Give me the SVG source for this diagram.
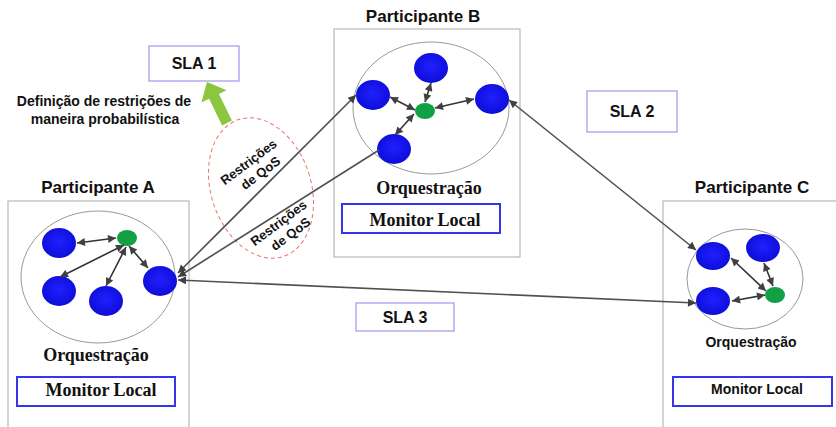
<svg xmlns="http://www.w3.org/2000/svg" width="836" height="427" viewBox="0 0 836 427">
<style>
.box{fill:#fff;stroke:#aaaaaa;stroke-width:1}
.orch{fill:none;stroke:#999999;stroke-width:1}
.blue{fill:url(#gb)}
.green{fill:#11a043}
.sla{fill:#fff;stroke:#9a9af2;stroke-width:1.2}
.mon{fill:#fff;stroke:#3535ee;stroke-width:2}
.title{font-family:"Liberation Sans",Arial,sans-serif;font-weight:bold;font-size:17px;fill:#111;text-anchor:middle}
.sans{font-family:"Liberation Sans",Arial,sans-serif;font-weight:bold;fill:#111;text-anchor:middle}
.serif{font-family:"Liberation Serif","Times New Roman",serif;font-weight:bold;font-size:18px;fill:#111;text-anchor:middle}
.link{stroke:#505050;stroke-width:1.6;fill:none}
.inner{stroke:#333333;stroke-width:1.6;fill:none}
</style>
<defs>
<radialGradient id="gb" cx="50%" cy="45%" r="60%">
<stop offset="0" stop-color="#2020ff"/>
<stop offset="1" stop-color="#0b0bd6"/>
</radialGradient>
<marker id="ah" viewBox="0 0 10 10" refX="10" refY="5" markerWidth="10" markerHeight="8" markerUnits="userSpaceOnUse" orient="auto-start-reverse">
<path d="M0,0 L10,5 L0,10 z" fill="#404040"/>
</marker>
</defs>
<rect width="836" height="427" fill="#fff"/>

<g id="participanteA">
<rect class="box" x="8" y="201" width="181" height="240"/>
<text class="title" x="98" y="193">Participante A</text>
<ellipse class="orch" cx="98" cy="277" rx="77" ry="66"/>
<ellipse class="blue" cx="59" cy="243" rx="17" ry="15"/>
<ellipse class="green" cx="127" cy="238" rx="10" ry="8"/>
<ellipse class="blue" cx="59" cy="291" rx="17" ry="15"/>
<ellipse class="blue" cx="106" cy="301" rx="17" ry="15"/>
<ellipse class="blue" cx="160" cy="281" rx="17" ry="15"/>
<text class="serif" x="96" y="361">Orquestração</text>
<rect class="mon" x="17" y="377" width="158" height="29"/>
<text class="serif" x="101" y="396">Monitor Local</text>
</g>

<g id="participanteB">
<rect class="box" x="334" y="29" width="186" height="228"/>
<text class="title" x="423" y="22">Participante B</text>
<ellipse class="orch" cx="431" cy="108" rx="78" ry="66"/>
<ellipse class="blue" cx="431" cy="68" rx="17" ry="15"/>
<ellipse class="blue" cx="373" cy="95" rx="17" ry="15"/>
<ellipse class="green" cx="425" cy="111" rx="10" ry="8"/>
<ellipse class="blue" cx="492" cy="99" rx="17" ry="15"/>
<ellipse class="blue" cx="394" cy="149" rx="17" ry="15"/>
<text class="serif" x="429" y="194">Orquestração</text>
<rect class="mon" x="342" y="204" width="158" height="29"/>
<text class="serif" x="425" y="226">Monitor Local</text>
</g>

<g id="participanteC">
<rect class="box" x="663" y="201" width="200" height="240"/>
<text class="title" x="752" y="193">Participante C</text>
<ellipse class="orch" cx="745" cy="279" rx="58" ry="50"/>
<ellipse class="blue" cx="713" cy="256" rx="17" ry="14"/>
<ellipse class="blue" cx="763" cy="248" rx="17" ry="14"/>
<ellipse class="blue" cx="713" cy="301" rx="17" ry="14"/>
<ellipse class="green" cx="775" cy="295" rx="10" ry="8"/>
<text class="sans" x="751" y="347" font-size="14">Orquestração</text>
<rect class="mon" x="673" y="377" width="159" height="29"/>
<text class="sans" x="757" y="394" font-size="14">Monitor Local</text>
</g>

<g id="sla1">
<rect class="sla" x="149" y="46" width="90" height="35"/>
<text class="sans" x="194" y="69" font-size="16">SLA 1</text>
</g>
<g id="sla2">
<rect class="sla" x="587" y="91" width="90" height="41"/>
<text class="sans" x="632" y="117" font-size="16">SLA 2</text>
</g>
<g id="sla3">
<rect class="sla" x="356" y="303" width="98" height="28"/>
<text class="sans" x="405" y="323" font-size="16">SLA 3</text>
</g>

<g id="definicao">
<text class="sans" font-size="14"><tspan x="104" y="106">Definição de restrições de</tspan><tspan x="105" y="124">maneira probabilística</tspan></text>
<polygon points="222.1,125.4 209.1,98.8 201.4,102.5 207,82 226.6,90.3 218.9,94 231.9,120.6" fill="#8cc63f"/>
</g>

<g id="restricoes">
<ellipse cx="261" cy="188" rx="50" ry="72" transform="rotate(-18 261 188)" fill="none" stroke="#f07070" stroke-width="1" stroke-dasharray="4,3"/>
<text class="sans" font-size="13" transform="translate(253,168) rotate(-37)"><tspan x="0" y="-3">Restrições</tspan><tspan x="3" y="13">de QoS</tspan></text>
<text class="sans" font-size="13" transform="translate(283,229) rotate(-37)"><tspan x="0" y="-3">Restrições</tspan><tspan x="3" y="13">de QoS</tspan></text>
</g>

<g id="connectors">
<line class="link" x1="178" y1="273" x2="356" y2="95" marker-start="url(#ah)" marker-end="url(#ah)"/>
<line class="link" x1="379" y1="150" x2="178" y2="277" marker-end="url(#ah)"/>
<line class="link" x1="509" y1="100" x2="696" y2="250" marker-start="url(#ah)" marker-end="url(#ah)"/>
<line class="link" x1="178" y1="280" x2="696" y2="303" marker-start="url(#ah)" marker-end="url(#ah)"/>

<line class="inner" x1="77" y1="243" x2="116" y2="238" marker-start="url(#ah)" marker-end="url(#ah)"/>
<line class="inner" x1="60" y1="277" x2="124" y2="245" marker-start="url(#ah)" marker-end="url(#ah)"/>
<line class="inner" x1="106" y1="286" x2="126" y2="247" marker-start="url(#ah)" marker-end="url(#ah)"/>
<line class="inner" x1="148" y1="268" x2="129" y2="246" marker-start="url(#ah)" marker-end="url(#ah)"/>

<line class="inner" x1="431" y1="83" x2="425" y2="102" marker-start="url(#ah)" marker-end="url(#ah)"/>
<line class="inner" x1="390" y1="97" x2="415" y2="110" marker-start="url(#ah)" marker-end="url(#ah)"/>
<line class="inner" x1="435" y1="108" x2="474" y2="99" marker-start="url(#ah)" marker-end="url(#ah)"/>
<line class="inner" x1="395" y1="135" x2="414" y2="114" marker-start="url(#ah)" marker-end="url(#ah)"/>

<line class="inner" x1="731" y1="258" x2="766" y2="291" marker-start="url(#ah)" marker-end="url(#ah)"/>
<line class="inner" x1="764" y1="263" x2="773" y2="286" marker-start="url(#ah)" marker-end="url(#ah)"/>
<line class="inner" x1="732" y1="301" x2="765" y2="295" marker-start="url(#ah)" marker-end="url(#ah)"/>
</g>
</svg>
